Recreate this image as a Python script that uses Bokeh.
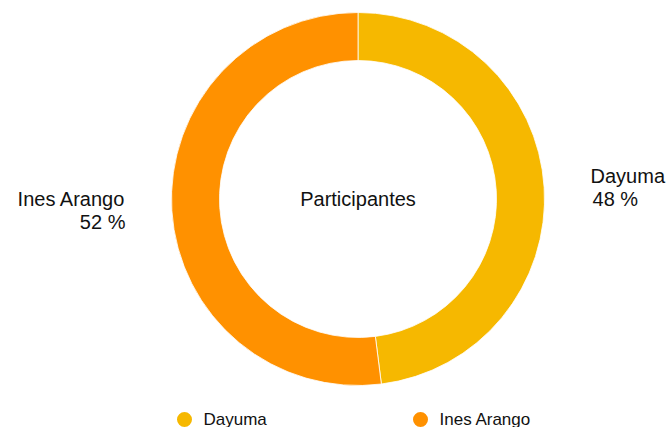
import math
from bokeh.plotting import figure
from bokeh.models import Range1d, ColumnDataSource
from bokeh.core.properties import value
from bokeh.embed import file_html
from bokeh.resources import INLINE

categories = ["Dayuma", "Ines Arango"]
percents = [48, 52]
colors = ["#F6B800", "#FF9100"]
center_title = "Participantes"

W, H = 669, 427
FONT = "Liberation Sans"

p = figure(width=W, height=H, output_backend="svg", toolbar_location=None,
           x_range=Range1d(0, W), y_range=Range1d(0, H), min_border=0)
p.axis.visible = False
p.grid.visible = False
p.outline_line_color = None
p.background_fill_color = "white"
p.border_fill_color = "white"

cx, cy = 357.5, H - 198.5
r_out, r_in = 186.5, 138.5

total = sum(percents)
starts, ends, mids = [], [], []
acc = 0.0
for v in percents:
    a0 = math.pi / 2 - 2 * math.pi * acc / total
    acc += v
    a1 = math.pi / 2 - 2 * math.pi * acc / total
    starts.append(a0)
    ends.append(a1)
    mids.append((a0 + a1) / 2)

src = ColumnDataSource(dict(x=[cx] * len(categories), y=[cy] * len(categories),
                            start=starts, end=ends, color=colors))
p.annular_wedge(x="x", y="y", inner_radius=r_in, outer_radius=r_out,
                start_angle="start", end_angle="end", direction="clock",
                fill_color="color", line_color="white", line_width=0.8, source=src)

# center title
p.text(x=[cx], y=[cy], text=[center_title], text_align="center", text_baseline="middle",
       text_font=value(FONT), text_font_size="20px", text_color="#111111")

# outside labels
r_lab = 233
for cat, v, m in zip(categories, percents, mids):
    lx = cx + r_lab * math.cos(m)
    ly = cy + r_lab * math.sin(m)
    right = math.cos(m) >= 0
    align = "left" if right else "right"
    y1 = ly + 8 if right else ly + 15
    y2 = y1 - 23
    p.text(x=[lx], y=[y1], text=[cat], text_align=align, text_baseline="alphabetic",
           text_font=value(FONT), text_font_size="20px", text_color="#111111")
    p.text(x=[lx + (2 if right else 0)], y=[y2], text=[f"{v} %"], text_align=align,
           text_baseline="alphabetic", text_font=value(FONT), text_font_size="20px",
           text_color="#111111")

# legend
leg_x = [184, 420]
leg_y = [8, 8]
p.scatter(x=leg_x, y=leg_y, size=15, marker="circle", fill_color=colors, line_color=None)
p.text(x=[x + 19 for x in leg_x], y=[8.5, 8.5], text=categories, text_align="left",
       text_baseline="middle", text_font=value(FONT), text_font_size="17px",
       text_color="#111111")

open("out.html", "w").write(file_html(p, INLINE))
